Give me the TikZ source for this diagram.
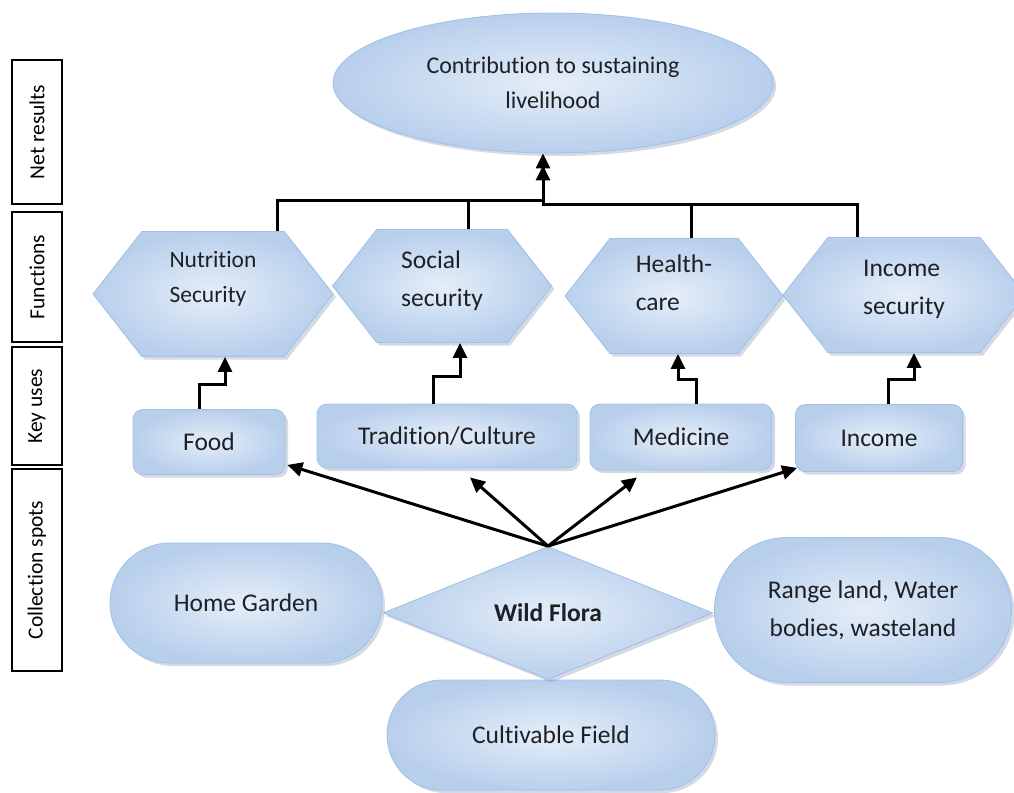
\documentclass[tikz,border=0pt]{standalone}
\usepackage{fontspec}
\setmainfont{Carlito}[RawFeature={-liga;-clig;-calt;-dlig}]
\usetikzlibrary{shapes.geometric, shapes.misc, shapes.symbols, arrows.meta, shadows}
\definecolor{boxedge}{RGB}{160,192,229}
\definecolor{boxlight}{RGB}{229,238,248}
\definecolor{boxdark}{RGB}{184,207,236}
\definecolor{shadowc}{RGB}{130,150,180}
\definecolor{ink}{RGB}{30,32,40}

\tikzset{
  flow/.style={draw=boxedge, line width=0.8pt, inner color=boxlight, outer color=boxdark,
    drop shadow={shadow xshift=3pt, shadow yshift=-3pt, fill=shadowc, opacity=0.35},
    text=ink, inner sep=0pt, font=\fontsize{25.5}{38}\selectfont},
  hexa/.style={flow, signal, signal to=east and west, signal pointer angle=104, align=left},
  usebox/.style={flow, rectangle, rounded corners=10pt},
  spot/.style={flow, rounded rectangle, align=center},
  level/.style={draw, line width=1.5pt, fill=white, rotate=90, minimum height=50pt, inner sep=0pt,
    font=\fontsize{21.5}{26}\selectfont},
  link/.style={line width=3pt},
  arr/.style={link, -{Triangle[length=15pt, width=14pt]}},
}

\begin{document}
\begin{tikzpicture}[x=1pt, y=-1pt]
  \useasboundingbox (0,0) rectangle (1014,792);
  % levels
  \node[level, minimum width=144pt] (net) at (37,132) {Net results};
  \node[level, minimum width=130pt] (fun) at (37,277) {Functions};
  \node[level, minimum width=118pt] (key) at (37,406) {Key uses};
  \node[level, minimum width=202pt] (col) at (37,570) {Collection spots};
  % net result
  \node[flow, ellipse, minimum width=440pt, minimum height=140pt, align=center,
    font=\fontsize{24}{35}\selectfont] (ell) at (553,83) {Contribution to sustaining\\livelihood};
  % functions
  \node[hexa, minimum width=240pt, minimum height=125pt, text depth=34pt,
    font=\fontsize{23.5}{35}\selectfont] (nut) at (213,294) {Nutrition\\Security};
  \node[hexa, minimum width=219pt, minimum height=113pt, text depth=14pt] (soc) at (442,286) {Social\\security};
  \node[hexa, minimum width=218pt, minimum height=115pt, text depth=26pt] (hea) at (674,296) {Health-\\care};
  \node[hexa, minimum width=242pt, minimum height=115pt, text depth=16pt] (inc) at (904,295) {Income\\security};
  % key uses
  \node[usebox, minimum width=152pt, minimum height=65pt] (food) at (209,442) {Food};
  \node[usebox, minimum width=260pt, minimum height=64pt] (trad) at (447,436) {Tradition/Culture};
  \node[usebox, minimum width=182pt, minimum height=66pt] (med) at (681,437) {Medicine};
  \node[usebox, minimum width=167pt, minimum height=67pt] (earn) at (879,438) {Income};
  % collection spots
  \node[spot, minimum width=272pt, minimum height=120pt] (home) at (246,603) {Home Garden};
  \node[spot, minimum width=328pt, minimum height=110pt] (field) at (551,735) {Cultivable Field};
  \node[spot, minimum width=297pt, minimum height=145pt] (range) at (863,610) {Range land, Water\\bodies, wasteland};
  \node[flow, diamond, minimum width=330pt, minimum height=133pt] (wild) at (548,613) {\textbf{Wild Flora}};
  % functions to net result
  \coordinate (busL) at (543,200); \coordinate (busR) at (543,204);
  \draw[arr] ([xshift=64]nut.north) |- (busL) -- ([xshift=-10]ell.south);
  \draw[link] ([xshift=26]soc.north) |- (busL);
  \draw[arr] ([xshift=-47]inc.north) |- (busR) -- ([xshift=-10,yshift=-12]ell.south);
  \draw[link] ([xshift=17]hea.north) |- (busR);
  % key uses to functions
  \draw[arr] ([xshift=-10]food.north) -- ++(0,-25) -| ([xshift=12]nut.south);
  \draw[arr] ([xshift=-14]trad.north) -- ++(0,-27) -| ([xshift=18]soc.south);
  \draw[arr] ([xshift=15]med.north) -- ++(0,-24) -| ([xshift=4]hea.south);
  \draw[arr] ([xshift=9]earn.north) -- ++(0,-25) -| ([xshift=10]inc.south);
  % wild flora to key uses
  \draw[arr] (wild.north) -- ([xshift=2,yshift=10]food.south east);
  \draw[arr] (wild.north) -- ([xshift=23,yshift=-9]trad.south);
  \draw[arr] (wild.north) -- ([xshift=-44,yshift=-7]med.south);
  \draw[arr] (wild.north) -- ([xshift=2,yshift=4]earn.south west);
\end{tikzpicture}
\end{document}
